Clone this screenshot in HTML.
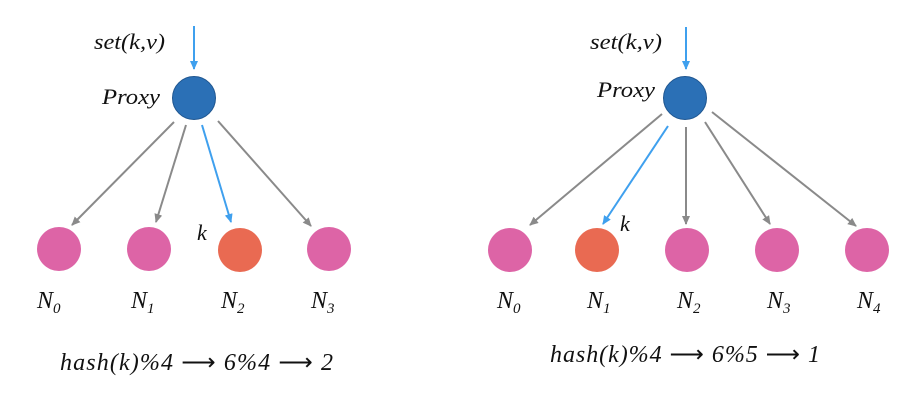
<!DOCTYPE html>
<html><head><meta charset="utf-8"><style>
html,body{margin:0;padding:0;background:#fff;}
svg{display:block;}
text{font-family:"Liberation Serif",serif;font-style:italic;fill:#111;}
</style></head><body>
<svg width="910" height="400" viewBox="0 0 910 400" xmlns="http://www.w3.org/2000/svg">
<defs>
<marker id="ag" markerWidth="10" markerHeight="10" refX="8" refY="4" orient="auto" markerUnits="userSpaceOnUse"><path d="M0,0 L9,4 L0,8 z" fill="#8a8a8a"/></marker>
<marker id="ab" markerWidth="10" markerHeight="10" refX="8" refY="4" orient="auto" markerUnits="userSpaceOnUse"><path d="M0,0 L9,4 L0,8 z" fill="#3fa0ee"/></marker>
</defs>
<g stroke-width="2" fill="none">
<line x1="194" y1="26" x2="194" y2="69" stroke="#3fa0ee" marker-end="url(#ab)"/>
<line x1="174" y1="122" x2="72" y2="225" stroke="#8a8a8a" marker-end="url(#ag)"/>
<line x1="186" y1="125" x2="156" y2="222" stroke="#8a8a8a" marker-end="url(#ag)"/>
<line x1="202" y1="125" x2="231" y2="222" stroke="#3fa0ee" marker-end="url(#ab)"/>
<line x1="218" y1="121" x2="311" y2="226" stroke="#8a8a8a" marker-end="url(#ag)"/>
<line x1="686" y1="27" x2="686" y2="69" stroke="#3fa0ee" marker-end="url(#ab)"/>
<line x1="662" y1="114" x2="530" y2="225" stroke="#8a8a8a" marker-end="url(#ag)"/>
<line x1="668" y1="126" x2="603" y2="224" stroke="#3fa0ee" marker-end="url(#ab)"/>
<line x1="686" y1="127" x2="686" y2="224" stroke="#8a8a8a" marker-end="url(#ag)"/>
<line x1="705" y1="122" x2="770" y2="224" stroke="#8a8a8a" marker-end="url(#ag)"/>
<line x1="712" y1="112" x2="856" y2="226" stroke="#8a8a8a" marker-end="url(#ag)"/>
</g>
<circle cx="194" cy="98" r="21.5" fill="#2b70b6" stroke="#1f5690" stroke-width="1"/>
<circle cx="685" cy="98" r="21.5" fill="#2b70b6" stroke="#1f5690" stroke-width="1"/>
<g fill="#dd64a6">
<circle cx="59" cy="249" r="22"/><circle cx="149" cy="249" r="22"/><circle cx="329" cy="249" r="22"/>
<circle cx="510" cy="250" r="22"/><circle cx="687" cy="250" r="22"/><circle cx="777" cy="250" r="22"/><circle cx="867" cy="250" r="22"/>
</g>
<circle cx="240" cy="250" r="22" fill="#e96a52"/>
<circle cx="597" cy="250" r="22" fill="#e96a52"/>
<g font-size="22">
<text x="94" y="49" textLength="71" lengthAdjust="spacingAndGlyphs">set(k,v)</text>
<text x="102" y="104" textLength="58" lengthAdjust="spacingAndGlyphs">Proxy</text>
<text x="590" y="49" textLength="72" lengthAdjust="spacingAndGlyphs">set(k,v)</text>
<text x="597" y="97" textLength="58" lengthAdjust="spacingAndGlyphs">Proxy</text>
<text x="197" y="240">k</text>
<text x="620" y="231">k</text>
</g>
<g font-size="24">
<text x="37" y="308">N<tspan font-size="15" dy="5">0</tspan></text>
<text x="131" y="308">N<tspan font-size="15" dy="5">1</tspan></text>
<text x="221" y="308">N<tspan font-size="15" dy="5">2</tspan></text>
<text x="311" y="308">N<tspan font-size="15" dy="5">3</tspan></text>
<text x="497" y="308">N<tspan font-size="15" dy="5">0</tspan></text>
<text x="587" y="308">N<tspan font-size="15" dy="5">1</tspan></text>
<text x="677" y="308">N<tspan font-size="15" dy="5">2</tspan></text>
<text x="767" y="308">N<tspan font-size="15" dy="5">3</tspan></text>
<text x="857" y="308">N<tspan font-size="15" dy="5">4</tspan></text>
<text x="60" y="370" textLength="273" lengthAdjust="spacing">hash(k)%4 <tspan font-style="normal">⟶</tspan> 6%4 <tspan font-style="normal">⟶</tspan> 2</text>
<text x="550" y="362" textLength="270" lengthAdjust="spacing">hash(k)%4 <tspan font-style="normal">⟶</tspan> 6%5 <tspan font-style="normal">⟶</tspan> 1</text>
</g>
</svg>
</body></html>
